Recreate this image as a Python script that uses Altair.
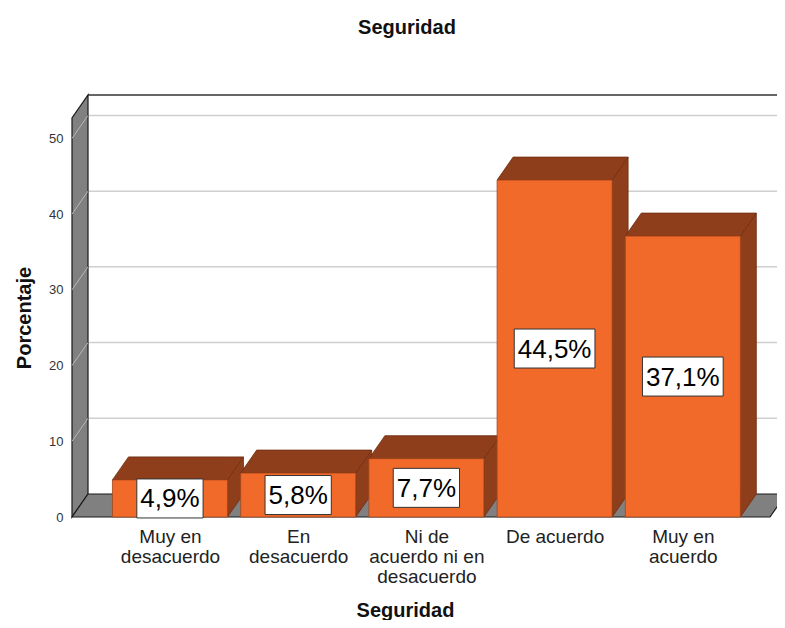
import altair as alt
import pandas as pd

# ---- data ----
categories = ["Muy en desacuerdo", "En desacuerdo", "Ni de acuerdo ni en desacuerdo",
              "De acuerdo", "Muy en acuerdo"]
category_lines = ["Muy en|desacuerdo", "En|desacuerdo", "Ni de|acuerdo ni en|desacuerdo",
                  "De acuerdo", "Muy en|acuerdo"]
percentages = [4.9, 5.8, 7.7, 44.5, 37.1]
value_labels = ["4,9%", "5,8%", "7,7%", "44,5%", "37,1%"]
y_ticks = [0, 10, 20, 30, 40, 50]

# ---- layout / style constants ----
FONT = "Liberation Sans"
PX_X = 128.2          # px per category step
PX_Y = 7.57           # px per percentage point
XMIN, XMAX = -0.764, 4.68
YMAX = 52.7
W = round((XMAX - XMIN) * PX_X)
H = round(YMAX * PX_Y)
DX = 16 / PX_X        # depth offset (x)
DY = 23 / PX_Y        # depth offset (y)
BW = 0.4485           # half bar width
FRONT = "#F26A2A"
DARK = "#8F3E1B"
GREY = "#808080"
LABEL_FS = 26

xs = alt.Scale(domain=[XMIN, XMAX], nice=False, zero=False)
ys = alt.Scale(domain=[0, YMAX], nice=False, zero=False)

idx = list(range(len(categories)))
lines_js = "[" + ",".join("'" + s + "'" for s in category_lines) + "]"
x_axis = alt.Axis(
    values=idx, labelExpr=f"split({lines_js}[datum.value], '|')",
    domain=False, ticks=False, tickSize=0, grid=False,
    labelFont=FONT, labelFontSize=19, labelLineHeight=20, labelColor="#222222",
    labelPadding=10, labelBaseline="top", labelFlush=False, labelOverlap=False,
    title="Seguridad", titleFont=FONT, titleFontSize=20, titleFontWeight="bold",
    titleColor="#111111", titlePadding=14, titleX=333, titleAnchor="start", titleAlign="center",
)
y_axis = alt.Axis(
    values=y_ticks, domain=False, ticks=False, tickSize=0, grid=False,
    labelFont=FONT, labelFontSize=13, labelColor="#333333", labelPadding=9,
    title="Porcentaje", titleFont=FONT, titleFontSize=20, titleFontWeight="bold",
    titleColor="#111111", titlePadding=14,
)


def X(f):
    return alt.X(f, type="quantitative", scale=xs, axis=x_axis)


def Y(f):
    return alt.Y(f, type="quantitative", scale=ys, axis=y_axis)


# fronts
front_df = pd.DataFrame({
    "cat": categories,
    "x": [i - BW for i in idx], "x2": [i + BW for i in idx],
    "y": [0.0] * len(idx), "y2": percentages,
})

# sides and tops (parallelograms as areas)
side_rows, top_rows = [], []
for i, v in zip(idx, percentages):
    side_rows += [
        {"b": i, "x": i + BW, "lo": 0.0, "hi": v},
        {"b": i, "x": i + BW + DX, "lo": DY, "hi": v + DY},
    ]
    top_rows += [
        {"b": i, "x": i - BW, "lo": v, "hi": v},
        {"b": i, "x": i - BW + DX, "lo": v, "hi": v + DY},
        {"b": i, "x": i + BW, "lo": v, "hi": v + DY},
        {"b": i, "x": i + BW + DX, "lo": v + DY, "hi": v + DY},
    ]
side_df = pd.DataFrame(side_rows)
top_df = pd.DataFrame(top_rows)

floor_df = pd.DataFrame([
    {"x": XMIN, "lo": 0.0, "hi": 0.0},
    {"x": XMIN + DX, "lo": 0.0, "hi": DY},
    {"x": XMAX, "lo": 0.0, "hi": DY},
    {"x": XMAX + DX, "lo": DY, "hi": DY},
])
wall_df = pd.DataFrame([
    {"x": XMIN, "lo": 0.0, "hi": YMAX},
    {"x": XMIN + DX, "lo": DY, "hi": YMAX + DY},
])

grid_vals = [t for t in y_ticks if t > 0]
grid_df = pd.DataFrame({"x": [XMIN + DX] * len(grid_vals), "x2": [XMAX + DX] * len(grid_vals),
                        "y": [t + DY for t in grid_vals]})
diag_df = pd.DataFrame({"x": [XMIN] * len(grid_vals), "x2": [XMIN + DX] * len(grid_vals),
                        "y": grid_vals, "y2": [t + DY for t in grid_vals]})
topline_df = pd.DataFrame({"x": [XMIN + DX], "x2": [XMAX + DX], "y": [YMAX + DY]})


def text_px(s, fs):
    w = 0.0
    for ch in s:
        if ch.isdigit():
            w += 0.556
        elif ch == ",":
            w += 0.278
        elif ch == "%":
            w += 0.889
        else:
            w += 0.5
    return w * fs


half_h = 19.5 / PX_Y
lab_df = pd.DataFrame({
    "x": idx,
    "y": [v / 2 for v in percentages],
    "label": value_labels,
})
lab_df["bx"] = [i - (text_px(s, LABEL_FS) + 7) / 2 / PX_X for i, s in zip(idx, value_labels)]
lab_df["bx2"] = [i + (text_px(s, LABEL_FS) + 7) / 2 / PX_X for i, s in zip(idx, value_labels)]
lab_df["by"] = lab_df["y"] - half_h
lab_df["by2"] = lab_df["y"] + half_h

# ---- layers ----
grid = alt.Chart(grid_df).mark_rule(color="#cfcfcf", strokeWidth=1.5).encode(
    x=X("x"), x2="x2", y=Y("y"))
topline = alt.Chart(topline_df).mark_rule(color="#333333", strokeWidth=1.5).encode(
    x=X("x"), x2="x2", y=Y("y"))
wall = alt.Chart(wall_df).mark_area(color=GREY, stroke="#1a1a1a", strokeWidth=1.2).encode(
    x=X("x"), y=Y("lo"), y2="hi")
diag = alt.Chart(diag_df).mark_rule(color="#b8b8b8", strokeWidth=1).encode(
    x=X("x"), x2="x2", y=Y("y"), y2="y2")
floor = alt.Chart(floor_df).mark_area(color=GREY, stroke="#1a1a1a", strokeWidth=1.2).encode(
    x=X("x"), y=Y("lo"), y2="hi")

sides = alt.Chart(side_df).mark_area(color=DARK, stroke="#6e2c10", strokeWidth=0.8).encode(
    x=X("x"), y=Y("lo"), y2="hi", detail="b:N")
tops = alt.Chart(top_df).mark_area(color=DARK, stroke="#6e2c10", strokeWidth=0.8).encode(
    x=X("x"), y=Y("lo"), y2="hi", detail="b:N")

fronts = alt.Chart(front_df).mark_rect(color=FRONT, stroke="#a2451c", strokeWidth=0.8).encode(
    x=X("x"), x2="x2", y=Y("y"), y2="y2")

boxes = alt.Chart(lab_df).mark_rect(fill="white", stroke="#333333", strokeWidth=1).encode(
    x=X("bx"), x2="bx2", y=Y("by"), y2="by2")
texts = alt.Chart(lab_df).mark_text(font=FONT, fontSize=LABEL_FS, color="black",
                                    baseline="middle", align="center", dy=1).encode(
    x=X("x"), y=Y("y"), text="label:N")

chart = alt.layer(
    grid, topline, wall, diag, floor, sides, tops, fronts, boxes, texts
).properties(
    width=W, height=H,
    autosize="none",
    padding={"left": 64, "top": 110, "right": 7, "bottom": 103},
    title=alt.TitleParams("Seguridad", font=FONT, fontSize=20, fontWeight="bold",
                          color="#111111", anchor="middle", dx=-14, offset=55),
    background="white",
).configure_view(stroke=None)

chart.save("out.html", embed_options={"renderer": "svg", "actions": False})
